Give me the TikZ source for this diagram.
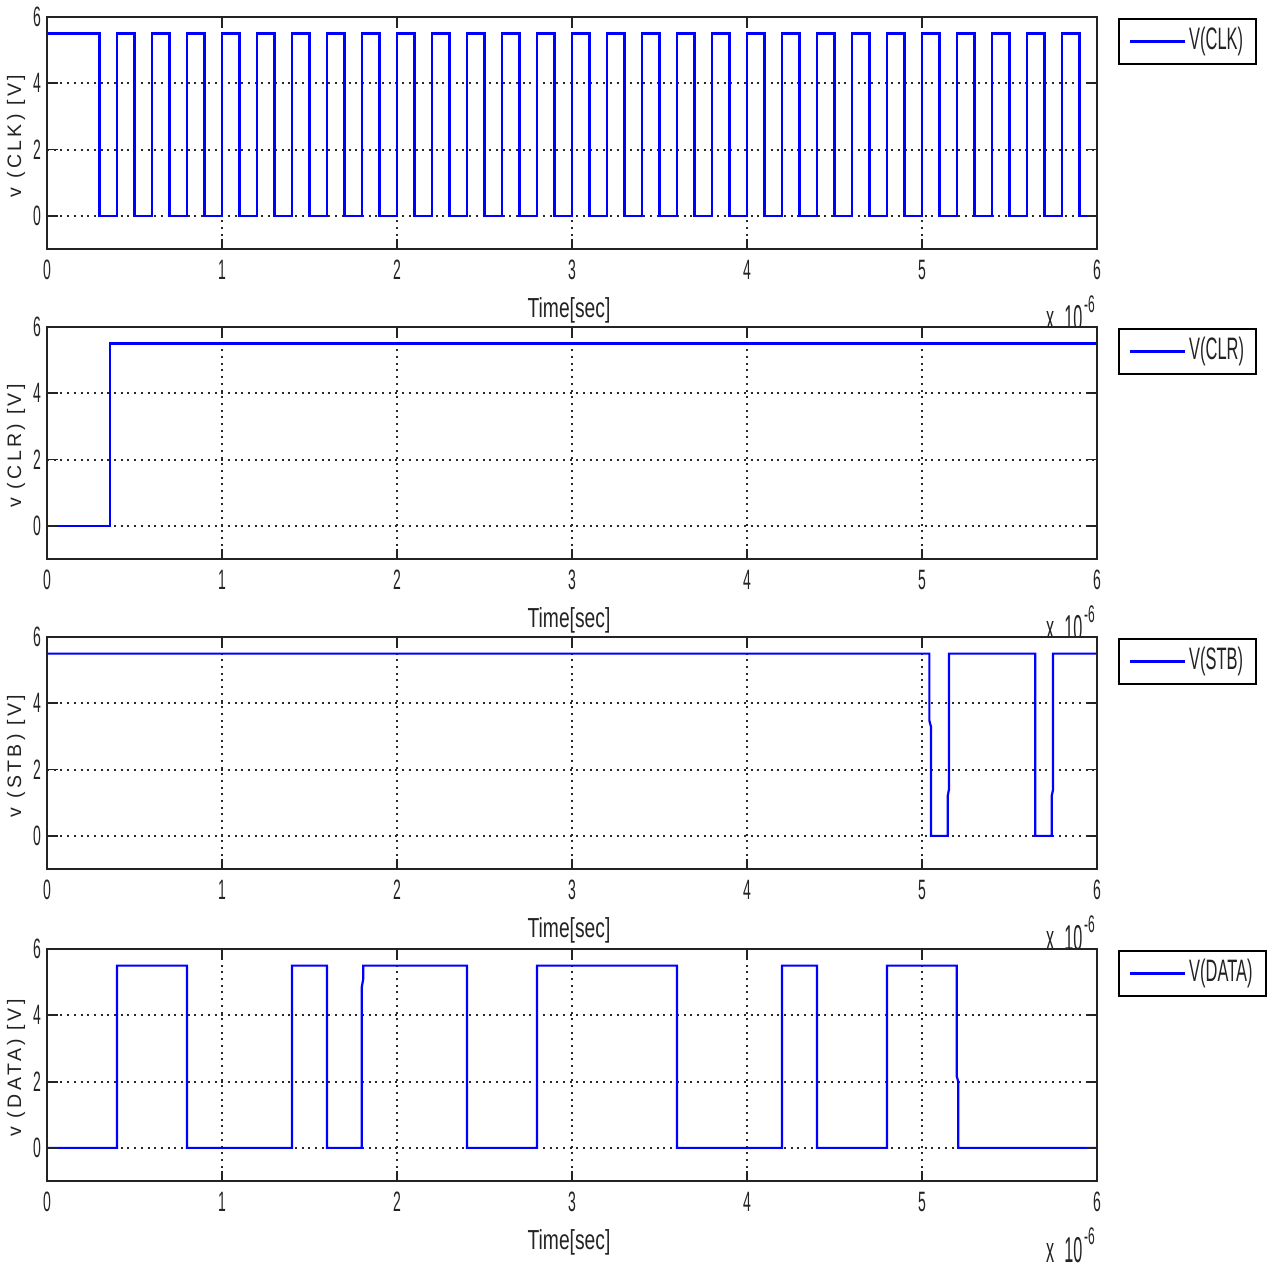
\documentclass[tikz,border=0pt]{standalone}
\usepackage{fontspec}
\setmainfont{Liberation Sans}
\newfontfamily\tickfont[FakeStretch=0.5]{Liberation Sans}
\newfontfamily\timefont[FakeStretch=0.7]{Liberation Sans}
\newfontfamily\legfont[FakeStretch=0.53]{Liberation Sans}
\newfontfamily\expfont[FakeStretch=0.45]{Liberation Sans}
\newfontfamily\ylabfont[LetterSpace=17.5]{Liberation Sans}
\definecolor{sigblue}{RGB}{0,0,255}
\definecolor{axgray}{RGB}{35,35,35}
\definecolor{griddot}{RGB}{40,40,40}
\tikzset{
  sig/.style={draw=sigblue, line width=2.2pt, line join=miter},
  axline/.style={draw=axgray, line width=1.8pt},
  legbox/.style={draw=black, line width=1.8pt, fill=white},
  gridline/.style={draw=griddot, line width=2pt, dash pattern=on 2pt off 4.7pt},
  ticklab/.style={inner sep=0pt, font=\tickfont\fontsize{28}{28}\selectfont, text=axgray},
  timelab/.style={inner sep=0pt, font=\timefont\fontsize{27.5}{27.5}\selectfont, text=axgray},
  leglab/.style={inner sep=0pt, font=\legfont\fontsize{31}{31}\selectfont, text=axgray},
  explab/.style={inner sep=0pt, font=\expfont\fontsize{36}{36}\selectfont, text=axgray},
  expsup/.style={inner sep=0pt, font=\tickfont\fontsize{24}{24}\selectfont, text=axgray},
  ylab/.style={inner sep=0pt, font=\ylabfont\fontsize{19.5}{19.5}\selectfont, text=axgray}
}
% #1 prefix, #2 y label, #3 legend text, #4 legend right edge (px), #5 y of value 0 (px), #6 signal path
\newcommand\plotaxes[6]{%
  \begin{scope}[shift={(47pt,-#5pt)}, x=175pt, y=33.14pt]
    \fill[white] (0,-1) rectangle (6,6);
    \foreach \t in {1,...,5} {\draw[gridline] (\t,-1) -- (\t,6);}
    \foreach \v in {0,2,4} {\draw[gridline] (0,\v) -- (6,\v);}
    \draw[sig] #6;
    \foreach \t in {0,...,6} {
      \draw[axline] (\t,-1) -- ++(0pt,10.5pt);
      \draw[axline] (\t,6) -- ++(0pt,-10.5pt);
      \node[ticklab] (#1-xt\t) at (\t,-1) [yshift=-21pt] {\t};
    }
    \foreach \v in {0,2,4,6} {
      \draw[axline] (0,\v) -- ++(10.5pt,0pt);
      \draw[axline] (6,\v) -- ++(-10.5pt,0pt);
      \node[ticklab, anchor=east] (#1-yt\v) at (0,\v) [xshift=-6pt] {\v};
    }
    \draw[axline] (0,-1) rectangle (6,6);
    \node[timelab] (#1-time) at (3,-1) [yshift=-61pt, xshift=-3pt] {Time[sec]};
    \node[explab, anchor=base west] (#1-exp) at (999pt,-115.1pt) {x\hspace{10pt}10};
    \node[expsup, anchor=base west] (#1-sup) at (1037pt,-97.1pt) {-6};
    \node[ylab, rotate=90] (#1-ylab) at (-31pt,79.86pt) {#2};
    \draw[legbox] (1072pt,196.86pt) rectangle (#4pt-47pt,151.86pt);
    \coordinate (#1-la) at (1083pt,174.4pt);
    \coordinate (#1-lb) at (1138pt,174.4pt);
    \draw[sig] (#1-la) -- (#1-lb);
    \node[leglab, anchor=west] (#1-leg) at (1142pt,174.4pt) {#3};
  \end{scope}%
}
\begin{document}
\begin{tikzpicture}
\fill[white] (0pt,0pt) rectangle (1271pt,-1270pt);
\useasboundingbox (0pt,0pt) rectangle (1271pt,-1270pt);
\plotaxes{clk}{v (CLK) [V]}{V(CLK)}{1256}{215.86}{(0,5.5) -| (0.3,0) \foreach \k in {0,...,27} { -| ({0.4+0.2*\k},5.5) -| ({0.5+0.2*\k},0) } -- (6,0)}
\plotaxes{clr}{v (CLR) [V]}{V(CLR)}{1256}{525.86}{(0,0) -- (0.36,0) -- (0.36,5.5) -- (6,5.5)}
\plotaxes{stb}{v (STB) [V]}{V(STB)}{1256}{835.86}{(0,5.5) -- (5.042,5.5) -- (5.042,3.48) -- (5.051,3.3) -- (5.051,0) -- (5.147,0) -- (5.147,1.21) -- (5.154,1.4) -- (5.154,5.5) -- (5.647,5.5) -- (5.647,0) -- (5.741,0) -- (5.741,1.2) -- (5.749,1.4) -- (5.749,5.5) -- (6,5.5)}
\plotaxes{data}{v (DATA) [V]}{V(DATA)}{1266}{1147.86}{(0,0) -| (0.4,5.5) -| (0.8,0) -| (1.4,5.5) -| (1.6,0) -- (1.798,0) -- (1.798,4.83) -- (1.807,5.1) -- (1.807,5.5) -| (2.4,0) -| (2.8,5.5) -| (3.6,0) -| (4.2,5.5) -| (4.4,0) -| (4.8,5.5) -- (5.198,5.5) -- (5.198,2.17) -- (5.207,2.0) -- (5.207,0) -- (6,0)}
\end{tikzpicture}
\end{document}
